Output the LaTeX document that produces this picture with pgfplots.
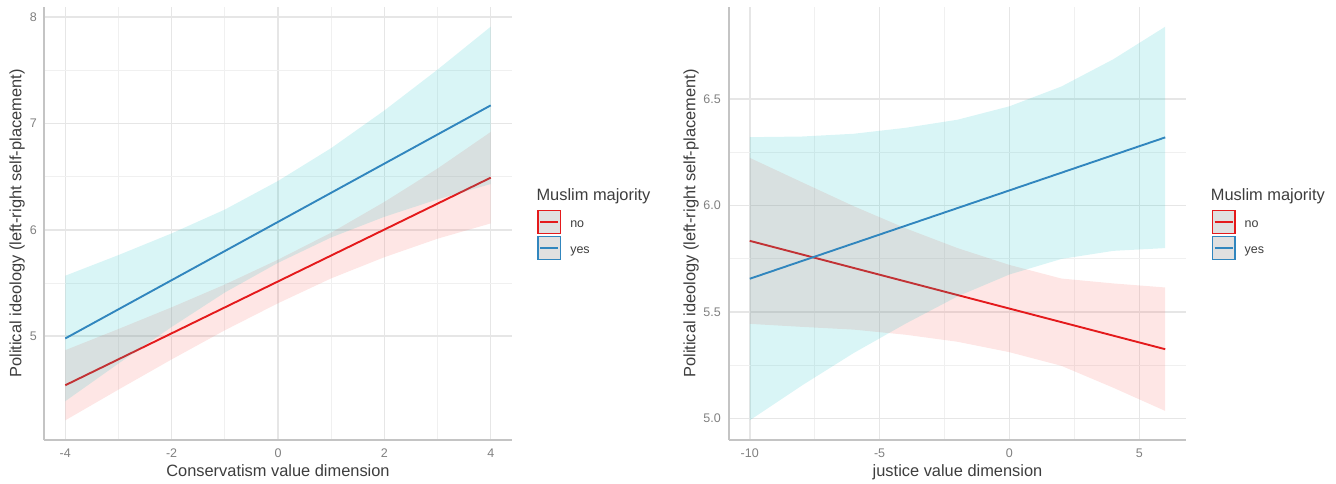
\documentclass[border=0pt]{standalone}
\usepackage{fontspec}
\setmainfont{Liberation Sans}
\usepackage{pgfplots}
\pgfplotsset{compat=1.18}
\definecolor{redline}{HTML}{E41A1C}
\definecolor{blueline}{HTML}{3186BE}
\definecolor{redfill}{HTML}{F8766D}
\definecolor{bluefill}{HTML}{00BFC4}
\definecolor{gridmaj}{HTML}{E6E6E6}
\definecolor{gridmin}{HTML}{F0F0F0}
\definecolor{axline}{HTML}{C4C4C4}
\definecolor{tickc}{HTML}{808080}
\definecolor{titlec}{HTML}{3D3D3D}
\definecolor{keyfill}{HTML}{E0E0E0}
\pgfplotsset{
  common/.style={
    scale only axis, height=433pt, anchor=south west,
    axis x line*=bottom, axis y line*=left,
    axis line style={draw=axline, line width=1.2pt, -},
    grid=both,
    major grid style={draw=gridmaj, line width=1.5pt},
    minor grid style={draw=gridmin, line width=0.9pt},
    major tick length=0pt, minor tick length=0pt,
    minor x tick num=1, minor y tick num=1,
    tick label style={font=\fontsize{12.5}{14}\selectfont, text=tickc},
    /pgf/number format/assume math mode=true,
    xticklabel style={anchor=north, inner sep=0pt, yshift=-8.3pt},
    yticklabel style={anchor=east, inner sep=0pt},
    label style={font=\fontsize{16.4}{18}\selectfont, text=titlec},
    xlabel style={at={(axis description cs:0.5,0)}, anchor=north, inner sep=0pt, yshift=-24pt},
    ylabel style={anchor=south, inner sep=0pt},
    clip=false,
    legend cell align=left,
    legend style={anchor=north west, draw=none, fill=none, inner sep=0pt, outer sep=0pt,
      row sep=1.5pt, column sep=9pt,
      nodes={inner sep=0pt, font=\fontsize{12.5}{14}\selectfont, text=titlec}},
  },
  rkey/.style={legend image code/.code={
    \draw[draw=redline, line width=1.3pt, fill=keyfill] (0.65pt,-8.5pt) rectangle (23.35pt,14.5pt);
    \draw[redline, line width=1.8pt] (3pt,3pt) -- (21pt,3pt);}},
  bkey/.style={legend image code/.code={
    \draw[draw=blueline, line width=1.3pt, fill=keyfill] (0.65pt,-8.5pt) rectangle (23.35pt,14.5pt);
    \draw[blueline, line width=1.8pt] (3pt,3pt) -- (21pt,3pt);}},
}
\begin{document}
\begin{tikzpicture}
\path[use as bounding box] (0,0) rectangle (1336pt,483pt);
% ---------------- left panel ----------------
\begin{axis}[common, at={(44pt,43pt)}, width=468pt,
  xmin=-4.4, xmax=4.4, ymin=4.024, ymax=8.096,
  xtick={-4,-2,0,2,4}, ytick={5,6,7,8},
  yticklabel style={xshift=-7pt},
  xlabel={Conservatism value dimension},
  ylabel={Political ideology (left-right self-placement)},
  ylabel style={at={([xshift=-19pt]axis description cs:0,0.5)}},
  legend style={at={(axis description cs:1.054,0.531)}}]
\addplot[draw=none, fill=redfill, fill opacity=0.18, forget plot] coordinates {
 (-4,4.869) (-3,5.068) (-2,5.272) (-1,5.486) (0,5.720) (1,5.974) (2,6.263) (3,6.577) (4,6.921)
 (4,6.061) (3,5.917) (2,5.743) (1,5.544) (0,5.310) (-1,5.056) (-2,4.782) (-3,4.498) (-4,4.209)} -- cycle;
\addplot[redline, line width=1.9pt, forget plot] coordinates {(-4,4.539) (4,6.491)};
\addplot[draw=none, fill=bluefill, fill opacity=0.15, forget plot] coordinates {
 (-4,5.569) (-3,5.763) (-2,5.967) (-1,6.191) (0,6.460) (1,6.769) (2,7.123) (3,7.507) (4,7.911)
 (4,6.431) (3,6.287) (2,6.123) (1,5.929) (0,5.690) (-1,5.411) (-2,5.087) (-3,4.743) (-4,4.389)} -- cycle;
\addplot[blueline, line width=1.9pt, forget plot] coordinates {(-4,4.979) (4,7.171)};
\addlegendimage{rkey}\addlegendentry{no}
\addlegendimage{bkey}\addlegendentry{yes}
\node[anchor=base west, inner sep=0pt, font=\fontsize{16.4}{18}\selectfont, text=titlec]
  at (axis description cs:1.052,0.554) {Muslim majority};
\end{axis}
% ---------------- right panel ----------------
\begin{axis}[common, at={(729pt,43pt)}, width=457pt,
  xmin=-10.8, xmax=6.8, ymin=4.8985, ymax=6.9325,
  xtick={-10,-5,0,5}, ytick={5.0,5.5,6.0,6.5},
  yticklabel style={xshift=-8pt, /pgf/number format/.cd, fixed, fixed zerofill, precision=1},
  xlabel={justice value dimension},
  ylabel={Political ideology (left-right self-placement)},
  ylabel style={at={([xshift=-30pt]axis description cs:0,0.5)}},
  legend style={at={(axis description cs:1.056,0.531)}}]
\addplot[draw=none, fill=redfill, fill opacity=0.18, forget plot] coordinates {
 (-10,6.224) (-8,6.110) (-6,5.997) (-4,5.893) (-2,5.800) (0,5.721) (2,5.657) (4,5.634) (6,5.615)
 (6,5.035) (4,5.144) (2,5.247) (0,5.311) (-2,5.360) (-4,5.393) (-6,5.417) (-8,5.430) (-10,5.444)} -- cycle;
\addplot[redline, line width=1.9pt, forget plot] coordinates {(-10,5.834) (6,5.325)};
\addplot[draw=none, fill=bluefill, fill opacity=0.15, forget plot] coordinates {
 (-10,6.321) (-8,6.324) (-6,6.337) (-4,6.365) (-2,6.403) (0,6.466) (2,6.559) (4,6.687) (6,6.840)
 (6,5.800) (4,5.787) (2,5.749) (0,5.676) (-2,5.573) (-4,5.445) (-6,5.307) (-8,5.154) (-10,4.991)} -- cycle;
\addplot[blueline, line width=1.9pt, forget plot] coordinates {(-10,5.656) (6,6.320)};
\addlegendimage{rkey}\addlegendentry{no}
\addlegendimage{bkey}\addlegendentry{yes}
\node[anchor=base west, inner sep=0pt, font=\fontsize{16.4}{18}\selectfont, text=titlec]
  at (axis description cs:1.054,0.554) {Muslim majority};
\end{axis}
\end{tikzpicture}
\end{document}
